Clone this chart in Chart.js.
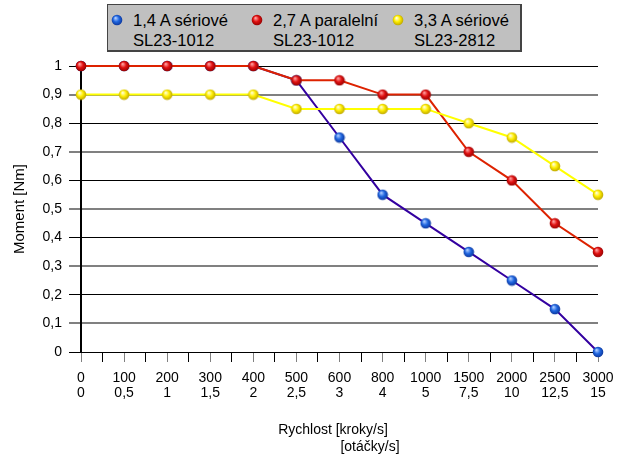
<!DOCTYPE html>
<html lang="cs">
<head>
<meta charset="UTF-8">
<title>Moment vs. rychlost</title>
<script src="https://cdn.jsdelivr.net/npm/chart.js"></script>
<style>
    body { margin: 0; background: #fff; font-family: "Liberation Sans", Arial, sans-serif; }
    #wrap { position: relative; width: 626px; height: 457px; }
    #legend {
        position: absolute; left: 107px; top: 4px; width: 412px; height: 45px;
        background: #c0c0c0; border: 1px solid #444; border-right-width: 2px; border-bottom-width: 2px;
        font-size: 16.6px; line-height: 20px; color: #000;
    }
    .item canvas { position: absolute; }
    .item span { position: absolute; top: 6px; white-space: nowrap; }
</style>
</head>
<body>
<div id="wrap">
    <canvas id="chart" width="626" height="457"></canvas>
    <div id="legend"></div>
</div>

<script>
    // rychlost: kroky/s a otáčky/s
    const krokyLabels = ['0', '100', '200', '300', '400', '500', '600', '800', '1000', '1500', '2000', '2500', '3000'];
    const otackyLabels = ['0', '0,5', '1', '1,5', '2', '2,5', '3', '4', '5', '7,5', '10', '12,5', '15'];

    // moment [Nm]
    const seriove1012 = [1, 1, 1, 1, 1, 0.95, 0.75, 0.55, 0.45, 0.35, 0.25, 0.15, 0];
    const paralelni1012 = [1, 1, 1, 1, 1, 0.95, 0.95, 0.9, 0.9, 0.7, 0.6, 0.45, 0.35];
    const seriove2812 = [0.9, 0.9, 0.9, 0.9, 0.9, 0.85, 0.85, 0.85, 0.85, 0.8, 0.75, 0.65, 0.55];

    const seriesNames = ['1,4 A sériové', '2,7 A paralelní', '3,3 A sériové'];
    const seriesModels = ['SL23-1012', 'SL23-1012', 'SL23-2812'];

    // kulicky jako znacky bodu
    const ballColors = [
        ['#a8c8ff', '#1f66e0', '#0a2f90'],
        ['#ff9a9a', '#e01010', '#880000'],
        ['#ffffd0', '#ffee00', '#b09800']
    ];
    function ball(light, mid, dark) {
        const c = document.createElement('canvas');
        c.width = 12; c.height = 12;
        const g = c.getContext('2d');
        const grad = g.createRadialGradient(4.5, 4, 0.5, 6, 6, 6);
        grad.addColorStop(0, light);
        grad.addColorStop(0.45, mid);
        grad.addColorStop(1, dark);
        g.fillStyle = grad;
        g.beginPath();
        g.arc(6, 6, 5.3, 0, Math.PI * 2);
        g.fill();
        return c;
    }

    const balls = ballColors.map(c => ball(c[0], c[1], c[2]));
    const lineColors = ['#3300a0', '#dd2200', '#ffff00'];
    const seriesData = [seriove1012, paralelni1012, seriove2812];

    // legenda
    const legend = document.getElementById('legend');
    const itemLeft = [3, 143, 284];
    seriesNames.forEach((name, i) => {
        const item = document.createElement('div');
        item.className = 'item';
        const mark = ball(ballColors[i][0], ballColors[i][1], ballColors[i][2]);
        mark.style.left = itemLeft[i] + 'px';
        mark.style.top = '9px';
        const txt = document.createElement('span');
        txt.style.left = (itemLeft[i] + 22) + 'px';
        txt.innerHTML = name + '<br>' + seriesModels[i];
        item.appendChild(mark);
        item.appendChild(txt);
        legend.appendChild(item);
    });

    const xTitlePlugin = {
        id: 'xTitle',
        afterDraw(chart) {
            const c = chart.ctx;
            const a = chart.chartArea;
            c.save();
            c.font = '14px "Liberation Sans", Arial, sans-serif';
            c.fillStyle = '#000';
            c.textAlign = 'center';
            c.textBaseline = 'middle';
            c.fillText('Rychlost [kroky/s]', a.left + 252, a.bottom + 78);
            c.fillText('[otáčky/s]', a.left + 289, a.bottom + 95);
            c.restore();
        }
    };

    const ctx = document.getElementById('chart').getContext('2d');
    const chart = new Chart(ctx, {
        type: 'line',
        data: {
            datasets: seriesData.map((d, i) => ({
                label: seriesNames[i],
                data: d.map((v, k) => ({ x: k, y: v })),
                borderColor: lineColors[i],
                backgroundColor: lineColors[i],
                borderWidth: 2,
                pointStyle: balls[i],
                pointRadius: 5,
                tension: 0,
                clip: false,
                order: 3 - i
            }))
        },
        options: {
            responsive: false,
            animation: false,
            layout: { padding: { top: 66, right: 28, left: 0, bottom: 0 } },
            plugins: {
                legend: { display: false },
                tooltip: { enabled: false }
            },
            scales: {
                x: {
                    type: 'linear',
                    min: 0,
                    max: 12,
                    afterFit(scale) { scale.height = 105; },
                    border: { display: false },
                    grid: {
                        drawOnChartArea: false,
                        tickLength: 10,
                        color: c => Number.isInteger(c.tick.value) ? '#808080' : '#000',
                        lineWidth: 1
                    },
                    ticks: {
                        stepSize: 0.5,
                        autoSkip: false,
                        maxRotation: 0,
                        padding: 8,
                        color: '#000',
                        font: { family: '"Liberation Sans", Arial, sans-serif', size: 14, lineHeight: 1.12 },
                        callback: v => Number.isInteger(v) ? [krokyLabels[v], otackyLabels[v]] : ''
                    }
                },
                y: {
                    min: 0,
                    max: 1,
                    afterFit(scale) { scale.width = 81; },
                    border: { display: true, color: '#000', width: 2 },
                    grid: {
                        tickLength: 12,
                        color: c => Math.round(c.tick.value * 10) % 2 ? '#808080' : '#000',
                        lineWidth: c => Math.round(c.tick.value * 10) % 2 ? 2 : 1
                    },
                    ticks: {
                        stepSize: 0.1,
                        padding: 7,
                        color: '#000',
                        font: { family: '"Liberation Sans", Arial, sans-serif', size: 14 },
                        callback: v => String(Math.round(v * 10) / 10).replace('.', ',')
                    },
                    title: {
                        display: true,
                        text: 'Moment [Nm]',
                        color: '#000',
                        padding: { top: 11, bottom: 0 },
                        font: { family: '"Liberation Sans", Arial, sans-serif', size: 15 }
                    }
                }
            }
        },
        plugins: [xTitlePlugin]
    });
</script>
</body>
</html>
